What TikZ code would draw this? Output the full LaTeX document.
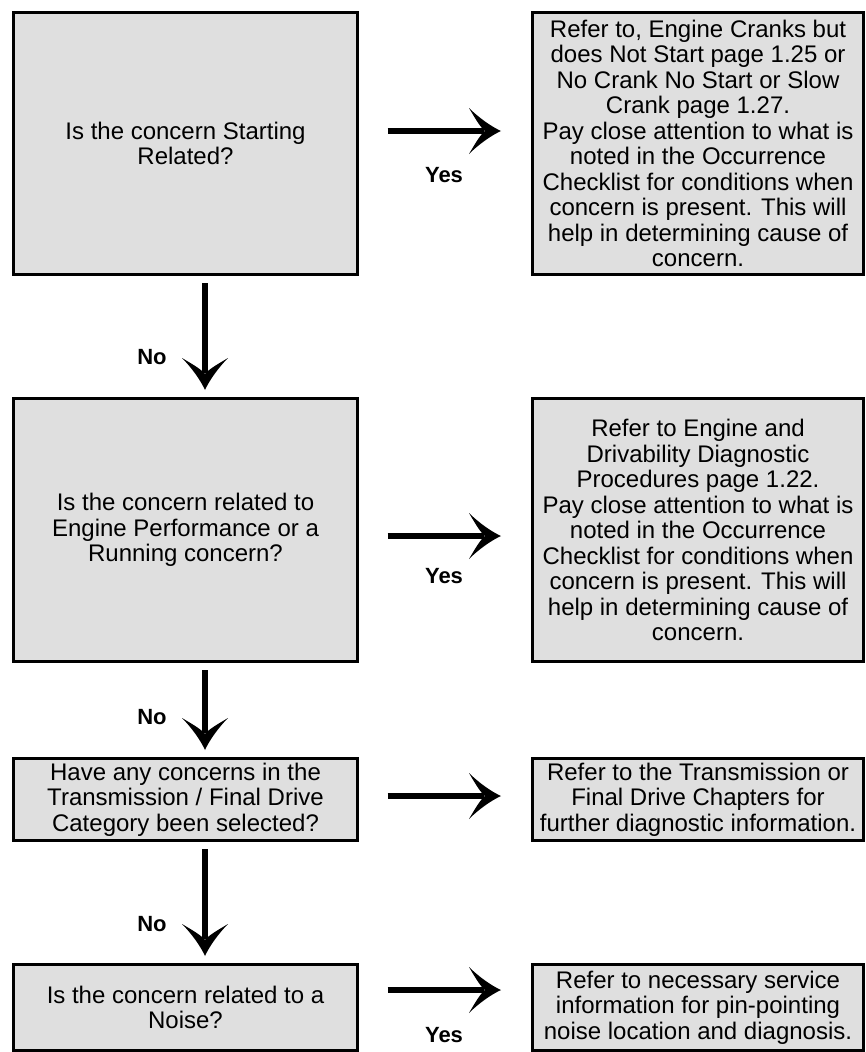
\documentclass[tikz,border=0pt]{standalone}
\usepackage{fontspec}
\setmainfont{Liberation Sans}
\usetikzlibrary{arrows.meta}
\definecolor{boxgray}{RGB}{223,223,223}
\pgfdeclarearrow{
  name = Chev,
  setup code = {
    \pgfarrowssettipend{0pt}
    \pgfarrowssetbackend{-32pt}
    \pgfarrowssetlineend{-17pt}
    \pgfarrowshullpoint{0pt}{0pt}
    \pgfarrowsupperhullpoint{-32pt}{23pt}
  },
  drawing code = {
    \pgfpathmoveto{\pgfqpoint{0pt}{0pt}}
    \pgfpathcurveto{\pgfqpoint{-9pt}{4pt}}{\pgfqpoint{-22pt}{13pt}}{\pgfqpoint{-32pt}{23pt}}
    \pgfpathcurveto{\pgfqpoint{-25pt}{11pt}}{\pgfqpoint{-20pt}{3pt}}{\pgfqpoint{-16pt}{0pt}}
    \pgfpathcurveto{\pgfqpoint{-20pt}{-3pt}}{\pgfqpoint{-25pt}{-11pt}}{\pgfqpoint{-32pt}{-23pt}}
    \pgfpathcurveto{\pgfqpoint{-22pt}{-13pt}}{\pgfqpoint{-9pt}{-4pt}}{\pgfqpoint{0pt}{0pt}}
    \pgfpathclose
    \pgfusepathqfill
  }
}
\begin{document}
\begin{tikzpicture}[x=1pt,y=-1pt,
  box/.style={draw=black, line width=3pt, fill=boxgray, align=center, inner sep=0pt,
    font=\fontsize{24}{25.5}\selectfont},
  lbox/.style={box, minimum width=344pt},
  rbox/.style={box, minimum width=331pt},
  lab/.style={font=\fontsize{22}{24}\selectfont\bfseries, inner sep=0pt},
  arr/.style={line width=5.5pt, -{Chev}},
  harr/.style={arr, shorten <=28.5pt, shorten >=30pt},
  varr/.style={arr, shorten <=7pt, shorten >=7pt}
]
\useasboundingbox (0,0) rectangle (866,1052);
\clip (0,0) rectangle (866,1052);

% left column
\node[lbox, minimum height=262pt] (q1) at (185.5,143.5) {Is the concern Starting\\Related?};
\node[lbox, minimum height=263pt] (q2) at (185.5,530) {Is the concern related to\\Engine Performance or a\\Running concern?};
\node[lbox, minimum height=82pt] (q3) at (185.5,799.5) {Have any concerns in the\\Transmission / Final Drive\\Category been selected?};
\node[lbox, minimum height=86pt] (q4) at (185.5,1007.5) {Is the concern related to a\\Noise?};

% right column
\node[rbox, minimum height=262pt] (r1) at (698,143.5) {Refer to, Engine Cranks but\\does Not Start page 1.25 or\\No Crank No Start or Slow\\Crank page 1.27.\\Pay close attention to what is\\noted in the Occurrence\\Checklist for conditions when\\concern is present. This will\\help in determining cause of\\concern.};
\node[rbox, minimum height=263pt] (r2) at (698,530) {Refer to Engine and\\Drivability Diagnostic\\Procedures page 1.22.\\Pay close attention to what is\\noted in the Occurrence\\Checklist for conditions when\\concern is present. This will\\help in determining cause of\\concern.};
\node[rbox, minimum height=82pt] (r3) at (698,799.5) {Refer to the Transmission or\\Final Drive Chapters for\\further diagnostic information.};
\node[rbox, minimum height=86pt] (r4) at (698,1007.5) {Refer to necessary service\\information for pin-pointing\\noise location and diagnosis.};

% Yes arrows
\draw[harr] ([yshift=12.5pt]q1.east) -- ([yshift=12.5pt]r1.west);
\draw[harr] ([yshift=-6pt]q2.east) -- ([yshift=-6pt]r2.west);
\draw[harr] ([yshift=3.5pt]q3.east) -- ([yshift=3.5pt]r3.west);
\draw[harr] ([yshift=17.5pt]q4.east) -- ([yshift=17.5pt]r4.west);

% No arrows
\draw[varr] ([xshift=19.5pt]q1.south) -- ([xshift=19.5pt]q2.north);
\draw[varr] ([xshift=19.5pt]q2.south) -- ([xshift=19.5pt]q3.north);
\draw[varr] ([xshift=19.5pt]q3.south) -- ([xshift=19.5pt]q4.north);

% labels
\node[lab] (y1) at (444,175) {Yes};
\node[lab] (y2) at (444,576) {Yes};
\node[lab] (y4) at (444,1035) {Yes};
\node[lab] (n1) at (152,357) {No};
\node[lab] (n2) at (152,717) {No};
\node[lab] (n3) at (152,924) {No};
\end{tikzpicture}
\end{document}
